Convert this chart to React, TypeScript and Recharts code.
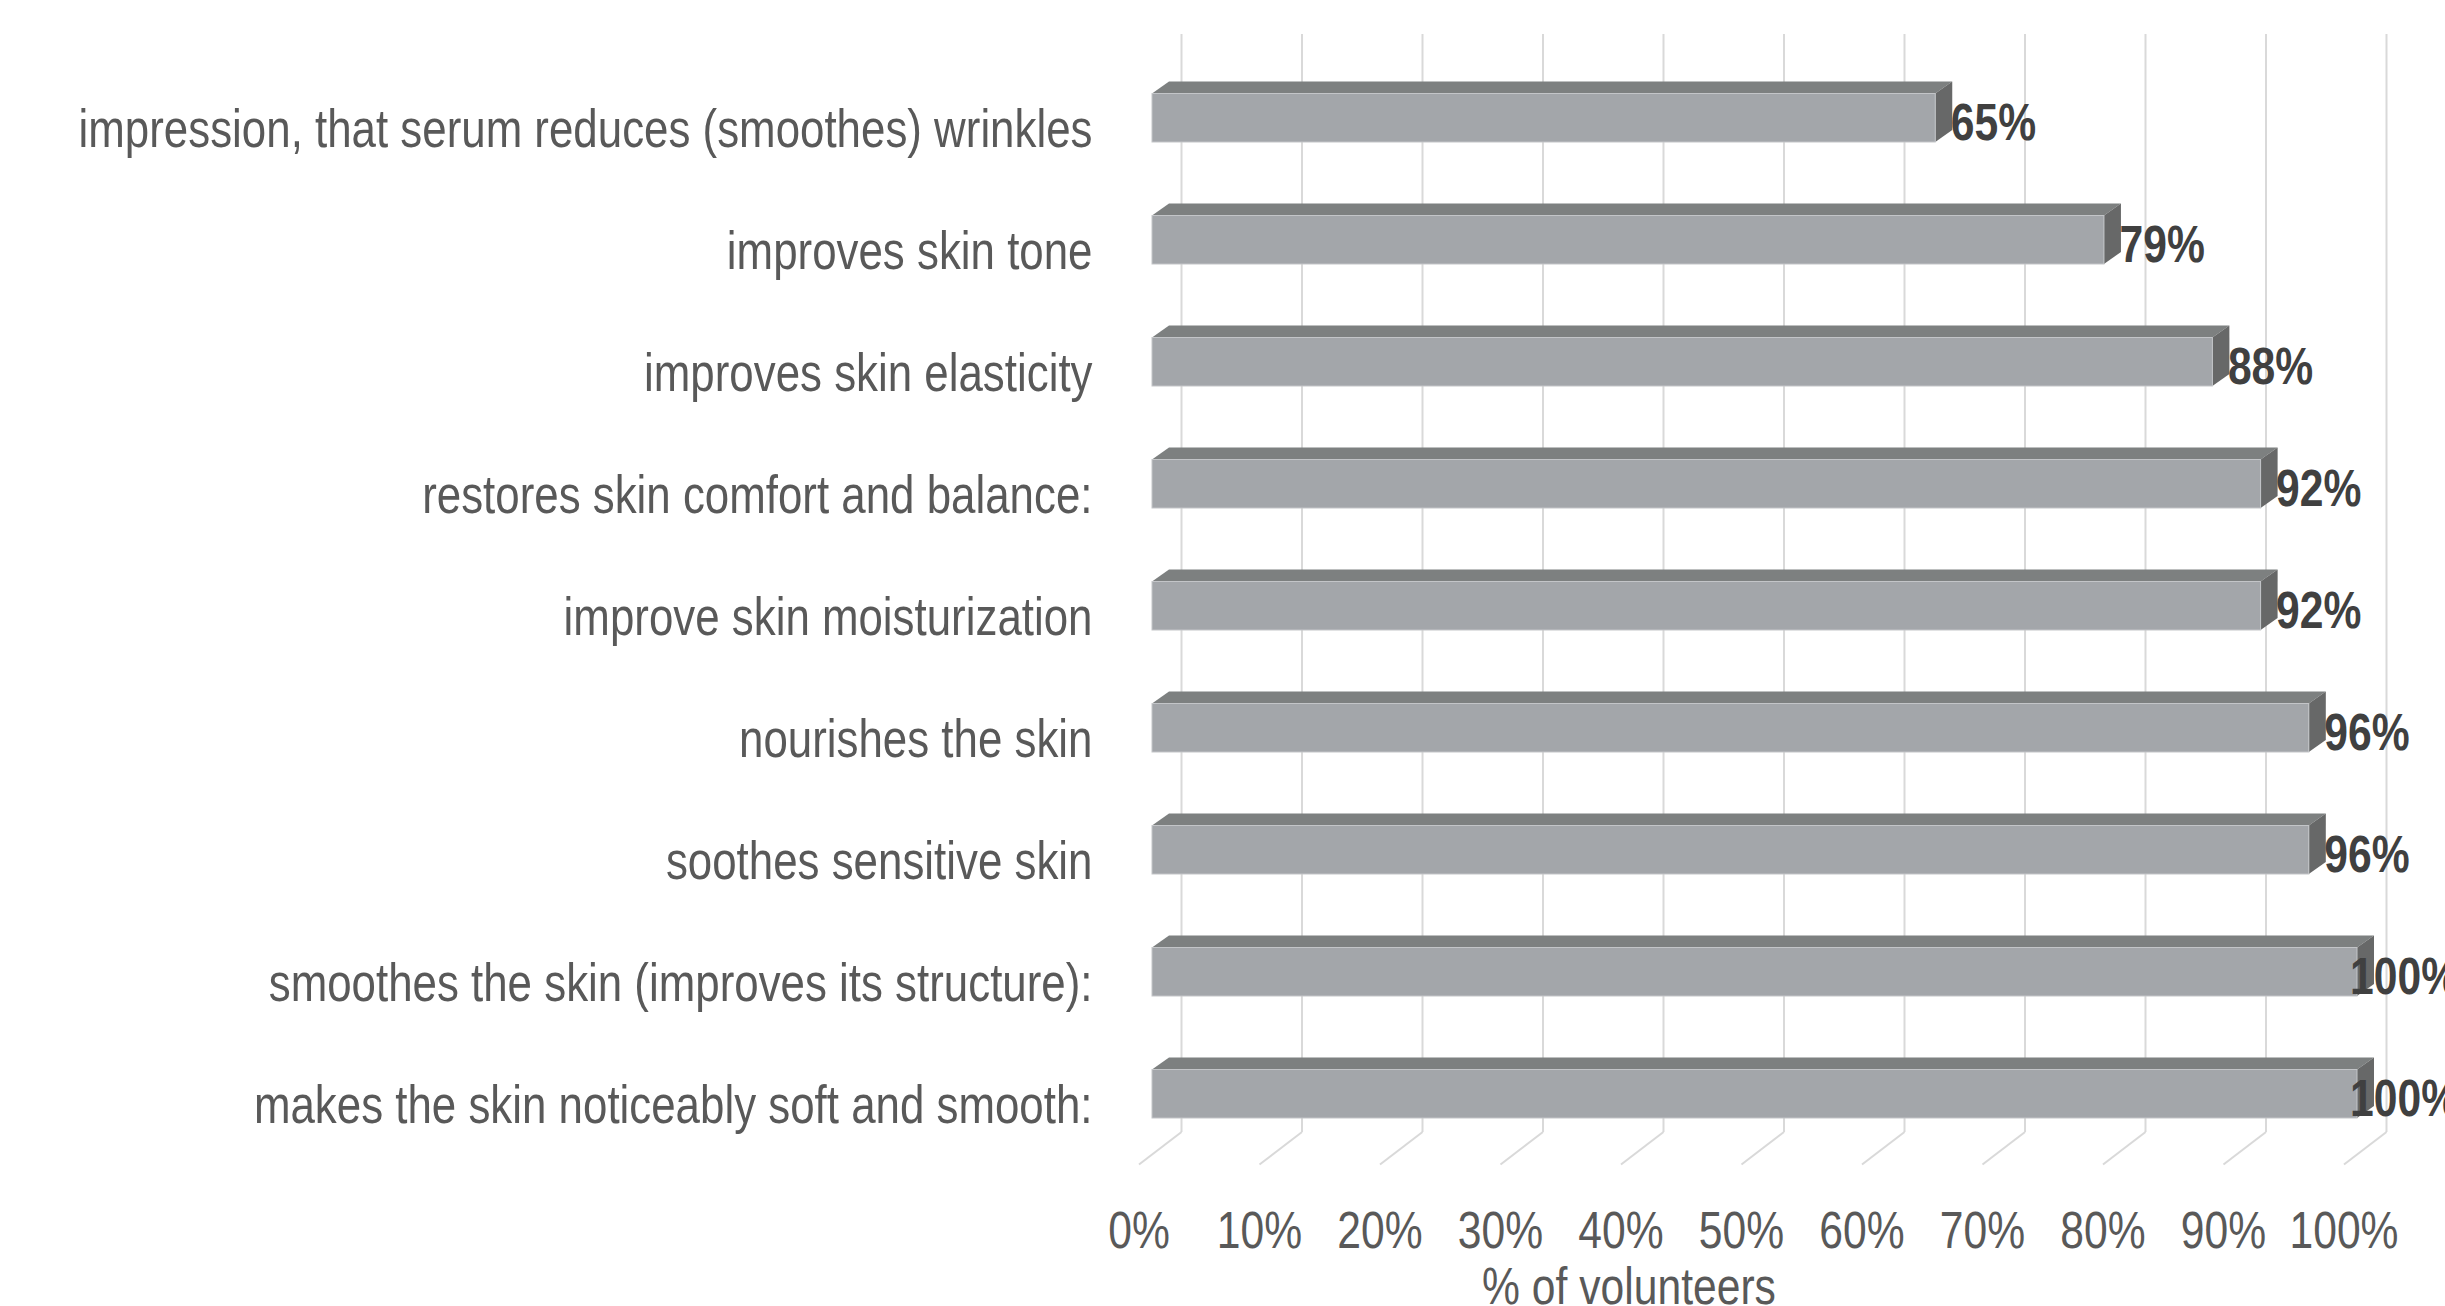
import { BarChart, Bar, XAxis, YAxis, CartesianGrid, LabelList, Label } from "recharts";

const categories = [
  "impression, that serum reduces (smoothes) wrinkles",
  "improves skin tone",
  "improves skin elasticity",
  "restores skin comfort and balance:",
  "improve skin moisturization",
  "nourishes the skin",
  "soothes sensitive skin",
  "smoothes the skin (improves its structure):",
  "makes the skin noticeably soft and smooth:",
];
const percentValues = [65, 79, 88, 92, 92, 96, 96, 100, 100];
const percentTicks = [0, 10, 20, 30, 40, 50, 60, 70, 80, 90, 100];

const data = categories.map((name, i) => ({ name, value: percentValues[i] }));

const W = 2445;
const H = 1306;
const FONT = '"Liberation Sans", Arial, sans-serif';
const NARROW = 0.82; // condensed look for all chart text
const TEXT = "#595959";
const GRID = "#d9d9d9";

// 3D projection: the plot area is the back wall; the floor front edge and
// bar faces are offset down-left from it.
const FLOOR_DX = -42.5;
const FLOOR_DY = 32.5;
const FRONT_DX = -29.5;
const FRONT_DY = 22.5;
const BACK_DX = -12.5;
const BACK_DY = 10.5;

function NarrowText({ x, y, anchor, fill = TEXT, bold = false, size = 52, children }: any) {
  return (
    <text
      transform={`translate(${x} ${y}) scale(${NARROW} 1)`}
      fill={fill}
      fontFamily={FONT}
      fontWeight={bold ? "bold" : "normal"}
      fontSize={size}
      textAnchor={anchor}
    >
      {children}
    </text>
  );
}

function Bar3D(props: any) {
  const { x, y, width, height } = props;
  if (width == null || width <= 0) return null;
  const fx = x + FRONT_DX;
  const fy = y + FRONT_DY;
  const bx = x + BACK_DX;
  const by = y + BACK_DY;
  const top = `${fx},${fy} ${fx + width},${fy} ${bx + width},${by} ${bx},${by}`;
  const side = `${fx + width},${fy} ${bx + width},${by} ${bx + width},${by + height} ${fx + width},${fy + height}`;
  return (
    <g>
      <polygon points={top} fill="#7d8080" />
      <polygon points={side} fill="#676868" />
      <rect x={fx} y={fy} width={width} height={height} fill="#a3a6aa" stroke="#c3c5c8" strokeWidth={1} />
    </g>
  );
}

function ValueLabel(props: any) {
  const { x, y, width, height, value } = props;
  // labels near the right edge get pulled back inside the plot
  const lx = Math.min(x + width - 14, W - 95);
  return (
    <NarrowText x={lx} y={y + height / 2 + 45} anchor="start" fill="#404040" bold>
      {value}%
    </NarrowText>
  );
}

function CategoryTick(props: any) {
  const { x, y, payload } = props;
  return (
    <NarrowText x={x - 89} y={y + FLOOR_DY + 19} anchor="end" size={53.5}>
      {payload.value}
    </NarrowText>
  );
}

function PercentTick(props: any) {
  const { x, y, payload } = props;
  return (
    <g>
      <line x1={x} y1={y} x2={x + FLOOR_DX} y2={y + FLOOR_DY} stroke={GRID} strokeWidth={2} />
      <NarrowText x={x + FLOOR_DX} y={y + 116} anchor="middle">
        {payload.value}%
      </NarrowText>
    </g>
  );
}

function AxisTitle(props: any) {
  const { viewBox } = props;
  return (
    <NarrowText x={viewBox.x + viewBox.width / 2 - 155} y={viewBox.y + 172} anchor="middle">
      % of volunteers
    </NarrowText>
  );
}

export default function App() {
  return (
    <div style={{ position: "absolute", left: 0, top: 0, width: W, height: H, background: "#fff" }}>
      <BarChart
        width={W}
        height={H}
        data={data}
        layout="vertical"
        margin={{ top: 34, right: 58.5, bottom: 0, left: 0 }}
        barSize={48.5}
      >
        <CartesianGrid horizontal={false} vertical stroke={GRID} strokeWidth={2} />
        <XAxis
          type="number"
          domain={[0, 100]}
          ticks={percentTicks}
          height={174}
          axisLine={false}
          tickLine={false}
          tickSize={0}
          tickMargin={0}
          tick={<PercentTick />}
          interval={0}
        >
          <Label content={<AxisTitle />} />
        </XAxis>
        <YAxis
          type="category"
          dataKey="name"
          width={1181.5}
          axisLine={false}
          tickLine={false}
          tickSize={0}
          tickMargin={0}
          tick={<CategoryTick />}
          interval={0}
        />
        <Bar dataKey="value" shape={<Bar3D />} isAnimationActive={false}>
          <LabelList dataKey="value" content={<ValueLabel />} />
        </Bar>
      </BarChart>
    </div>
  );
}
